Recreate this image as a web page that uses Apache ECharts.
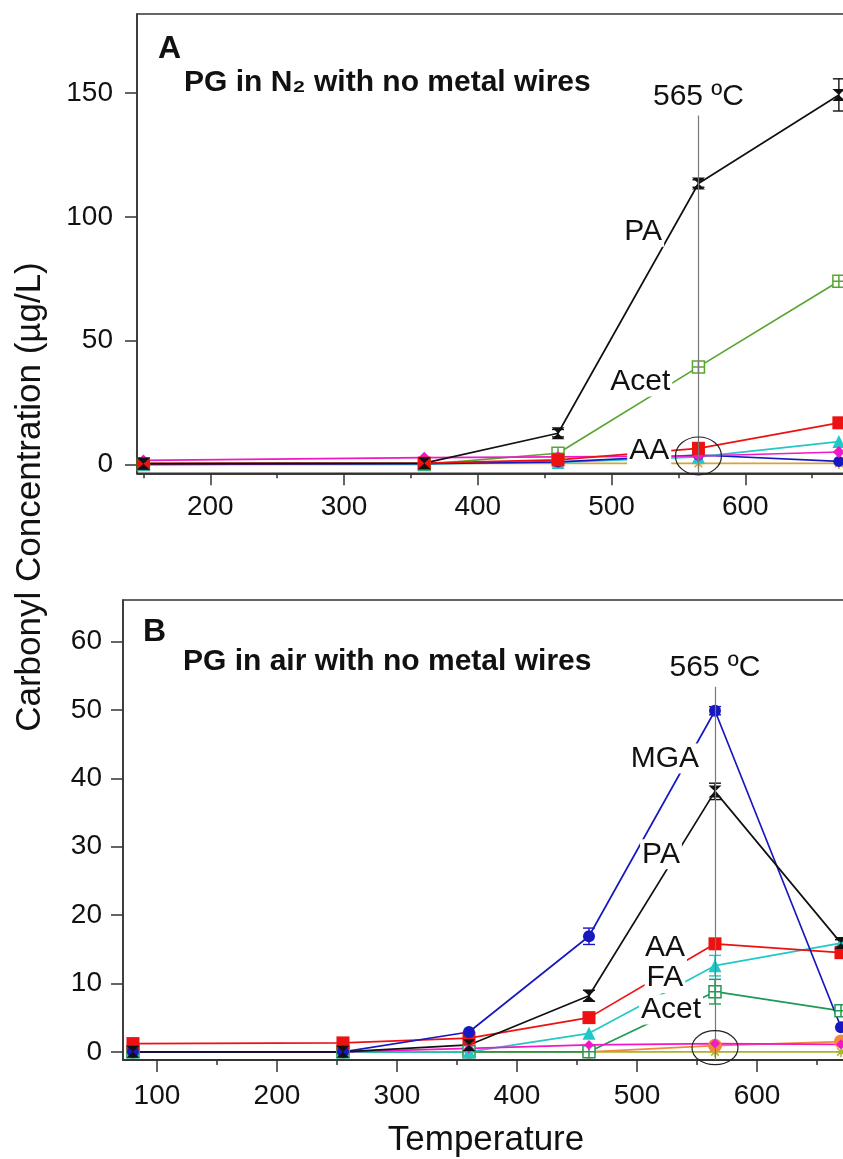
<!DOCTYPE html>
<html>
<head>
<meta charset="utf-8">
<script src="https://cdn.jsdelivr.net/npm/echarts@6/dist/echarts.min.js"></script>
<style>
html, body { margin: 0; padding: 0; background: #fff; }
#main { width: 843px; height: 1159px; }
</style>
</head>
<body>
<div id="main"></div>
<script>
// panel A: PG in N2, no metal wires
var tempA  = [150, 360, 460, 565, 670];
var paA    = [0.3, 0.5, 12.6, 113.5, 149.3];
var paAErr = [0, 0, 1.5, 1.5, 6.5];
var acetA  = [0, 0, 4.5, 39.4, 74.0];
var aaA    = [0.3, 0.5, 1.8, 6.5, 16.8];
var faA    = [0, 0.2, 0.8, 3.0, 9.2];
var mgaA   = [0, 0.3, 1.0, 3.8, 1.2];
var magA   = [1.6, 2.7, 3.0, 3.4, 5.0];
var tanA   = [0.4, 0.4, 0.4, 0.4, 0.4];

// panel B: PG in air, no metal wires
var tempB   = [80, 255, 360, 460, 565, 670];
var mgaB    = [0, 0, 2.9, 16.9, 49.9, 3.6];
var mgaBErr = [0, 0, 0, 1.2, 0.6, 0];
var paB     = [0, 0, 1.0, 8.2, 38.1, 15.9];
var paBErr  = [0, 0, 0.3, 0.8, 1.2, 0.5];
var aaB     = [1.2, 1.3, 2.0, 5.0, 15.8, 14.5];
var faB     = [0, 0, 0, 2.7, 12.6, 15.9];
var faBErr  = [0, 0, 0, 0, 1.5, 0];
var acetB   = [0, 0, 0, 0, 8.8, 6.0];
var acetBErr = [0, 0, 0, 0, 1.8, 0];
var magB    = [0, 0, 0.5, 1.0, 1.2, 1.1];
var orangeB = [0, 0, 0, 0, 0.9, 1.5];
var oliveB  = [0, 0, 0, 0, 0, 0];

// ticks
var yTicksA = [0, 50, 100, 150];
var yTicksB = [0, 10, 20, 30, 40, 50, 60];
var xMajorA = [200, 300, 400, 500, 600, 700];
var xMinorA = [150, 250, 350, 450, 550, 650];
var xMajorB = [100, 200, 300, 400, 500, 600, 700];
var xMinorB = [150, 250, 350, 450, 550, 650];

// text notes, placed in data coords
var notesA = [['PA', 523.7, 94], ['Acet', 521.5, 33.5], ['AA', 528.2, 5.4]];
var notesB = [['MGA', 523.3, 42.9], ['PA', 520, 28.9], ['AA', 523.3, 15.2], ['FA', 523.3, 10.8], ['Acet', 528.3, 6.2]];

var FONT = '"Liberation Sans", Arial, Helvetica, sans-serif';
var AX = '#333';

var HOURGLASS = 'path://M0,0L10,0L5,5L10,10L0,10L5,5Z';
var BOXCROSS = 'path://M0,0L10,0L10,10L0,10Z M5,0L5,10 M0,5L10,5';
var STAR = 'path://M5,0L5,10M0,5L10,5M1.5,1.5L8.5,8.5M8.5,1.5L1.5,8.5';

var chart = echarts.init(document.getElementById('main'));

function xAxes(grid, min, max, majors, minors, margin) {
  return [
    { type: 'value', gridIndex: grid, min: min, max: max, position: 'bottom',
      axisLine: { show: true, onZero: false, lineStyle: { color: AX, width: 1.5 } },
      axisTick: { show: true, length: 12, customValues: majors, lineStyle: { color: AX, width: 1.5 } },
      axisLabel: { show: true, customValues: majors, fontSize: 28, color: '#111', fontFamily: FONT, margin: margin },
      splitLine: { show: false } },
    { type: 'value', gridIndex: grid, min: min, max: max, position: 'bottom',
      axisLine: { show: true, onZero: false, lineStyle: { color: AX, width: 1.5 } },
      axisTick: { show: true, length: 5, customValues: minors, lineStyle: { color: AX, width: 1.5 } },
      axisLabel: { show: false }, splitLine: { show: false } }
  ];
}

function yAxis(grid, min, max, ticks, margin) {
  return { type: 'value', gridIndex: grid, min: min, max: max,
    axisLine: { show: true, onZero: false, lineStyle: { color: AX, width: 1.5 } },
    axisTick: { show: true, length: 12, customValues: ticks, lineStyle: { color: AX, width: 1.5 } },
    axisLabel: { show: true, customValues: ticks, fontSize: 28, color: '#111', fontFamily: FONT, margin: margin },
    splitLine: { show: false } };
}

function line(temps, vals, color, symbol, size, xi, yi, hollow) {
  return {
    type: 'line', xAxisIndex: xi, yAxisIndex: yi,
    data: temps.map(function (t, i) { return [t, vals[i]]; }),
    symbol: symbol, symbolSize: size, showSymbol: true,
    lineStyle: { color: color, width: 1.7 },
    itemStyle: hollow ? { color: hollow, borderColor: color, borderWidth: 1.5 } : { color: color },
    emphasis: { disabled: true }, animation: false
  };
}

function errBars(temps, vals, errs, color, xi, yi) {
  var data = [];
  temps.forEach(function (t, i) {
    if (errs[i] > 0) data.push([t, vals[i] - errs[i], vals[i] + errs[i]]);
  });
  return {
    type: 'custom', xAxisIndex: xi, yAxisIndex: yi, z: 3, animation: false,
    encode: { x: 0, y: [1, 2] },
    renderItem: function (params, api) {
      var lo = api.coord([api.value(0), api.value(1)]);
      var hi = api.coord([api.value(0), api.value(2)]);
      var w = 6, st = { stroke: color, lineWidth: 1.4 };
      return { type: 'group', children: [
        { type: 'line', shape: { x1: lo[0], y1: lo[1], x2: hi[0], y2: hi[1] }, style: st },
        { type: 'line', shape: { x1: lo[0] - w, y1: lo[1], x2: lo[0] + w, y2: lo[1] }, style: st },
        { type: 'line', shape: { x1: hi[0] - w, y1: hi[1], x2: hi[0] + w, y2: hi[1] }, style: st }
      ] };
    },
    data: data
  };
}

function mark565(ymin, ytop) {
  return {
    silent: true, symbol: ['none', 'none'], animation: false,
    lineStyle: { color: '#777', width: 1.2, type: 'solid' },
    label: { show: true, position: 'end', formatter: '565 ºC', fontSize: 30, color: '#111', fontFamily: FONT, distance: 4 },
    data: [[{ coord: [565, ymin] }, { coord: [565, ytop] }]]
  };
}

var paSeriesA = line(tempA, paA, '#111', HOURGLASS, [13, 12], 0, 0);
paSeriesA.markLine = mark565(-3.6, 141);
var paSeriesB = line(tempB, paB, '#111', HOURGLASS, [13, 12], 2, 1);
paSeriesB.markLine = mark565(-1.2, 53.4);

var option = {
  backgroundColor: '#fff',
  animation: false,
  grid: [
    { left: 137, top: 14, width: 742, height: 459.3, show: true, borderColor: AX, borderWidth: 1.5,
      containLabel: false, outerBoundsMode: 'none' },
    { left: 123, top: 600, width: 754, height: 460, show: true, borderColor: AX, borderWidth: 1.5,
      containLabel: false, outerBoundsMode: 'none' }
  ],
  xAxis: [].concat(
    xAxes(0, 145.2, 700, xMajorA, xMinorA, 20),
    xAxes(1, 71.7, 700, xMajorB, xMinorB, 22)
  ),
  yAxis: [
    yAxis(0, -3.6, 182, yTicksA, 24),
    yAxis(1, -1.2, 66.1, yTicksB, 21)
  ],
  series: [
    line(tempA, tanA, '#d6a23c', STAR, 11, 0, 0, 'transparent'),
    line(tempA, acetA, '#5aa532', BOXCROSS, 12, 0, 0, '#fff'),
    line(tempA, faA, '#22c8c8', 'triangle', 13, 0, 0),
    line(tempA, mgaA, '#1818c0', 'circle', 11, 0, 0),
    line(tempA, magA, '#f018c8', 'diamond', 12, 0, 0),
    line(tempA, aaA, '#ee1111', 'rect', 13, 0, 0),
    paSeriesA,
    errBars(tempA, paA, paAErr, '#111', 0, 0),

    line(tempB, oliveB, '#a9b52a', STAR, 11, 2, 1, 'transparent'),
    line(tempB, orangeB, '#f28a3c', 'circle', 14, 2, 1),
    line(tempB, acetB, '#1f9a55', BOXCROSS, 12, 2, 1, '#fff'),
    errBars(tempB, acetB, acetBErr, '#1f9a55', 2, 1),
    line(tempB, faB, '#22c8c8', 'triangle', 13, 2, 1),
    errBars(tempB, faB, faBErr, '#22c8c8', 2, 1),
    line(tempB, magB, '#f018c8', 'diamond', 10, 2, 1),
    line(tempB, aaB, '#ee1111', 'rect', 13, 2, 1),
    line(tempB, mgaB, '#1818c0', 'circle', 12, 2, 1),
    errBars(tempB, mgaB, mgaBErr, '#1818c0', 2, 1),
    paSeriesB,
    errBars(tempB, paB, paBErr, '#111', 2, 1)
  ]
};
chart.setOption(option);

function txt(text, x, y, size, bold, align, bg, rot) {
  return { type: 'text', z: 100, x: x, y: y, rotation: rot || 0,
    style: { text: text, fill: '#111', font: (bold ? 'bold ' : '') + size + 'px ' + FONT,
      textAlign: align || 'left', align: align || 'left', textVerticalAlign: 'middle', verticalAlign: 'middle',
      backgroundColor: bg || null, padding: bg ? [0, 2] : 0 } };
}

var g = [
  txt('A', 158, 49, 32, true),
  txt('PG in N\u2082 with no metal wires', 184, 83, 30, true),
  txt('B', 143, 632, 32, true),
  txt('PG in air with no metal wires', 183, 662, 30, true),
  txt('Temperature', 486, 1140, 35, false, 'center'),
  txt('Carbonyl Concentration (\u00b5g/L)', 30, 497, 35, false, 'center', null, Math.PI / 2)
];
notesA.forEach(function (n) {
  var p = chart.convertToPixel({ xAxisIndex: 0, yAxisIndex: 0 }, [n[1], n[2]]);
  g.push(txt(n[0], p[0], p[1], 30, false, 'center', '#fff'));
});
notesB.forEach(function (n) {
  var p = chart.convertToPixel({ xAxisIndex: 2, yAxisIndex: 1 }, [n[1], n[2]]);
  g.push(txt(n[0], p[0], p[1], 30, false, 'center', '#fff'));
});
var cA = chart.convertToPixel({ xAxisIndex: 0, yAxisIndex: 0 }, [565, 3.4]);
var cB = chart.convertToPixel({ xAxisIndex: 2, yAxisIndex: 1 }, [565, 0.6]);
g.push({ type: 'ellipse', z: 100, shape: { cx: cA[0], cy: cA[1], rx: 23, ry: 19 }, style: { fill: 'none', stroke: '#222', lineWidth: 1.2 } });
g.push({ type: 'ellipse', z: 100, shape: { cx: cB[0], cy: cB[1], rx: 23, ry: 17 }, style: { fill: 'none', stroke: '#222', lineWidth: 1.2 } });

chart.setOption({ graphic: g });
</script>
</body>
</html>
